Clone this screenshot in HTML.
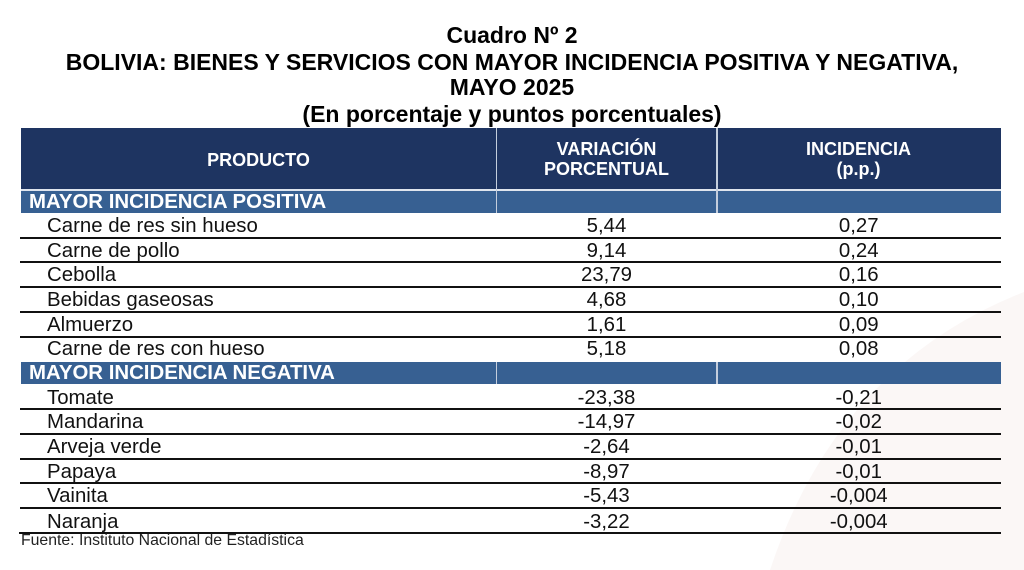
<!DOCTYPE html>
<html>
<head>
<meta charset="utf-8">
<style>
  html, body { margin:0; padding:0; }
  body { width:1024px; height:570px; position:relative; overflow:hidden; background:#ffffff; font-family:"Liberation Sans", Arial, sans-serif; }
  .abs { position:absolute; white-space:nowrap; }
  .t { left:0; width:1024px; text-align:center; font-weight:bold; font-size:23px; line-height:23px; color:#000; }
  .hdr { position:absolute; left:21px; top:128px; width:979.5px; height:61px; background:#1e3461; }
  .sec { position:absolute; left:21px; width:979.5px; height:22px; background:#376092; }
  .vd { position:absolute; width:1.5px; background:#c4cedd; }
  .ht { font-weight:bold; font-size:18px; line-height:18px; color:#fff; text-align:center; }
  .st { font-weight:bold; font-size:20.4px; line-height:20.4px; color:#fff; left:29px; }
  .d { font-size:20.4px; line-height:20.4px; color:#111; }
  .c1 { left:47px; }
  .c2 { left:506.5px; width:200px; text-align:center; }
  .c3 { left:758.75px; width:200px; text-align:center; }
  .ln { position:absolute; left:20px; width:981px; height:2px; background:#111; }
</style>
</head>
<body>
<svg class="abs" style="left:0;top:0" width="1024" height="570">
  <path d="M770 570 Q 838 365 1024 292 L1024 570 Z" fill="#fbf7f6"/>
</svg>

<div class="abs t" style="top:23.85px">Cuadro Nº 2</div>
<div class="abs t" style="top:50.55px">BOLIVIA: BIENES Y SERVICIOS CON MAYOR INCIDENCIA POSITIVA Y NEGATIVA,</div>
<div class="abs t" style="top:76.25px">MAYO 2025</div>
<div class="abs t" style="top:102.55px">(En porcentaje y puntos porcentuales)</div>

<div class="hdr"></div>
<div style="position:absolute;left:21px;top:189px;width:979.5px;height:1.5px;background:#dfe5ee"></div>
<div class="sec" style="top:190.7px"></div>
<div class="sec" style="top:362.3px"></div>

<div class="vd" style="left:495.5px;top:128px;height:84.5px"></div>
<div class="vd" style="left:716.3px;top:128px;height:84.5px"></div>
<div class="vd" style="left:495.5px;top:362.3px;height:22px"></div>
<div class="vd" style="left:716.3px;top:362.3px;height:22px"></div>

<div class="abs ht" style="left:21px;width:475px;top:150.5px">PRODUCTO</div>
<div class="abs ht" style="left:496px;width:221px;top:139.8px">VARIACIÓN</div>
<div class="abs ht" style="left:496px;width:221px;top:159.8px">PORCENTUAL</div>
<div class="abs ht" style="left:717px;width:283px;top:139.8px">INCIDENCIA</div>
<div class="abs ht" style="left:717px;width:283px;top:159.8px">(p.p.)</div>

<div class="abs st" style="top:191.7px">MAYOR INCIDENCIA POSITIVA</div>
<div class="abs st" style="top:363.4px">MAYOR INCIDENCIA NEGATIVA</div>

<!-- positive rows -->
<div class="abs d c1" style="top:216px">Carne de res sin hueso</div>
<div class="abs d c2" style="top:216px">5,44</div>
<div class="abs d c3" style="top:216px">0,27</div>
<div class="ln" style="top:236.5px"></div>

<div class="abs d c1" style="top:240.5px">Carne de pollo</div>
<div class="abs d c2" style="top:240.5px">9,14</div>
<div class="abs d c3" style="top:240.5px">0,24</div>
<div class="ln" style="top:261.4px"></div>

<div class="abs d c1" style="top:265px">Cebolla</div>
<div class="abs d c2" style="top:265px">23,79</div>
<div class="abs d c3" style="top:265px">0,16</div>
<div class="ln" style="top:286px"></div>

<div class="abs d c1" style="top:289.7px">Bebidas gaseosas</div>
<div class="abs d c2" style="top:289.7px">4,68</div>
<div class="abs d c3" style="top:289.7px">0,10</div>
<div class="ln" style="top:310.8px"></div>

<div class="abs d c1" style="top:314.5px">Almuerzo</div>
<div class="abs d c2" style="top:314.5px">1,61</div>
<div class="abs d c3" style="top:314.5px">0,09</div>
<div class="ln" style="top:335.6px"></div>

<div class="abs d c1" style="top:338.9px">Carne de res con hueso</div>
<div class="abs d c2" style="top:338.9px">5,18</div>
<div class="abs d c3" style="top:338.9px">0,08</div>

<!-- negative rows -->
<div class="abs d c1" style="top:387.8px">Tomate</div>
<div class="abs d c2" style="top:387.8px">-23,38</div>
<div class="abs d c3" style="top:387.8px">-0,21</div>
<div class="ln" style="top:408.3px"></div>

<div class="abs d c1" style="top:412.2px">Mandarina</div>
<div class="abs d c2" style="top:412.2px">-14,97</div>
<div class="abs d c3" style="top:412.2px">-0,02</div>
<div class="ln" style="top:432.7px"></div>

<div class="abs d c1" style="top:437.3px">Arveja verde</div>
<div class="abs d c2" style="top:437.3px">-2,64</div>
<div class="abs d c3" style="top:437.3px">-0,01</div>
<div class="ln" style="top:457.8px"></div>

<div class="abs d c1" style="top:461.8px">Papaya</div>
<div class="abs d c2" style="top:461.8px">-8,97</div>
<div class="abs d c3" style="top:461.8px">-0,01</div>
<div class="ln" style="top:482.3px"></div>

<div class="abs d c1" style="top:486.2px">Vainita</div>
<div class="abs d c2" style="top:486.2px">-5,43</div>
<div class="abs d c3" style="top:486.2px">-0,004</div>
<div class="ln" style="top:506.7px"></div>

<div class="abs d c1" style="top:511.5px">Naranja</div>
<div class="abs d c2" style="top:511.5px">-3,22</div>
<div class="abs d c3" style="top:511.5px">-0,004</div>
<div class="ln" style="top:531.8px;left:18.5px;width:982.5px;height:2.5px"></div>

<div class="abs" style="left:21px;top:533.3px;font-size:15.8px;line-height:15.8px;color:#222">Fuente: Instituto Nacional de Estadística</div>
</body>
</html>
